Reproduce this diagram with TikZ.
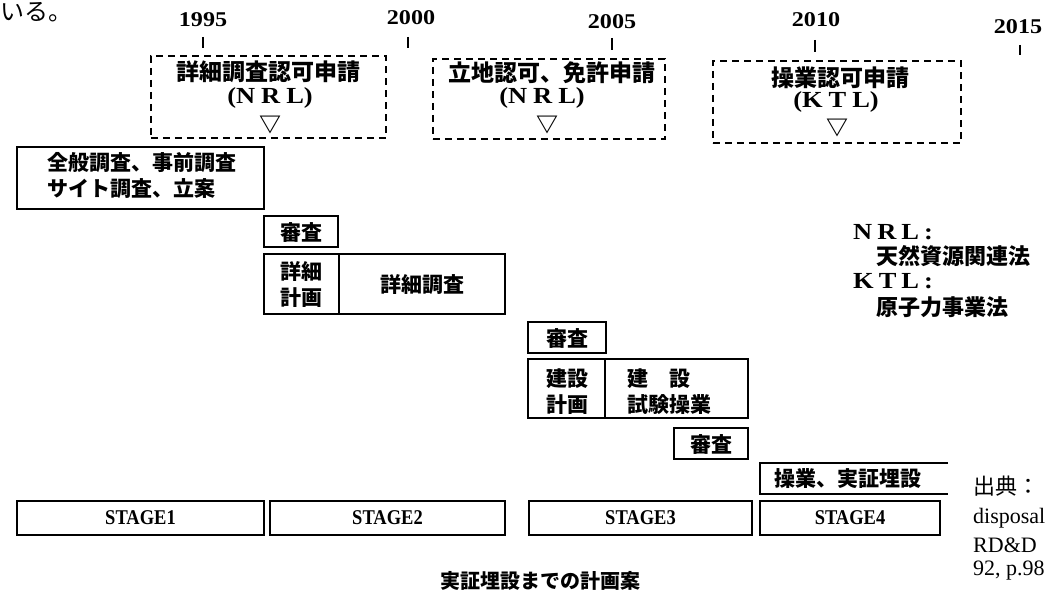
\documentclass[tikz,border=0pt]{standalone}
\usepackage{fontspec}
\setmainfont{Liberation Serif}
\newfontfamily\jp{Noto Sans CJK JP}
\newfontfamily\wide{Liberation Serif}[FakeStretch=1.15]
\newfontfamily\narrow{Liberation Serif}[FakeStretch=0.88]
\tikzset{
  bx/.style={draw, line width=1.5pt, inner sep=0pt, outer sep=0pt, anchor=north west},
  bline/.style={line width=1.5pt},
  dbx/.style={draw, line width=1.6pt, dash pattern=on 7pt off 5pt, inner sep=0pt, anchor=north west},
  jt/.style={font=\jp\bfseries\fontsize{21}{24}\selectfont, inner sep=0pt},
  jtl/.style={font=\jp\bfseries\fontsize{23}{26}\selectfont, inner sep=0pt},
  lat/.style={font=\wide\bfseries\fontsize{23}{26}\selectfont, inner sep=0pt},
  yr/.style={font=\wide\bfseries\fontsize{21}{23}\selectfont, inner sep=0pt},
  tri/.style={font=\jp\bfseries\fontsize{22}{24}\selectfont, inner sep=0pt},
  st/.style={font=\narrow\bfseries\fontsize{21}{23}\selectfont},
  src/.style={font=\fontsize{22}{24}\selectfont, inner sep=0pt, anchor=west},
  ticks/.style={line width=2.6pt},
}
\begin{document}
\begin{tikzpicture}[x=1pt,y=-1pt]
\useasboundingbox (0,0) rectangle (1047,596);
\clip (0,0) rectangle (1047,596);

% fragment of page text
\node[anchor=west, font=\jp\fontsize{24}{26}\selectfont, inner sep=0pt] (frag) at (0,12) {いる。};

% years and ticks
\node[yr] (y1995) at (203,20) {1995};
\node[yr] (y2000) at (411,18) {2000};
\node[yr] (y2005) at (612,22) {2005};
\node[yr] (y2010) at (816,20) {2010};
\node[yr] (y2015) at (1018,27) {2015};
\coordinate (a1) at (203,37); \coordinate (b1) at (203,48);
\coordinate (a2) at (408,37); \coordinate (b2) at (408,48);
\coordinate (a3) at (612,38); \coordinate (b3) at (612,50);
\coordinate (a4) at (815,40); \coordinate (b4) at (815,52);
\coordinate (a5) at (1020,45); \coordinate (b5) at (1020,55);
\draw[ticks] (a1) -- (b1);
\draw[ticks] (a2) -- (b2);
\draw[ticks] (a3) -- (b3);
\draw[ticks] (a4) -- (b4);
\draw[ticks] (a5) -- (b5);

% dashed application boxes
\node[dbx, minimum width=235pt, minimum height=82pt] (app1) at (150,55) {};
\node[jtl] (app1t) at (268,72) {詳細調査認可申請};
\node[lat] (app1l) at (270,98) {(N\hspace{6pt}R\hspace{6pt}L)};
\node[tri] (app1v) at (270,125) {▽};

\node[dbx, minimum width=232pt, minimum height=80pt] (app2) at (432,58) {};
\node[jtl] (app2t) at (552,73) {立地認可、免許申請};
\node[lat] (app2l) at (542,98) {(N\hspace{6pt}R\hspace{6pt}L)};
\node[tri] (app2v) at (547,125) {▽};

\node[dbx, minimum width=248pt, minimum height=82pt] (app3) at (712,60) {};
\node[jtl] (app3t) at (840,78) {操業認可申請};
\node[lat] (app3l) at (836,102) {(K\hspace{6pt}T\hspace{6pt}L)};
\node[tri] (app3v) at (837,128) {▽};

% stage 1 work
\node[bx, minimum width=247pt, minimum height=62pt] (gen) at (17,147) {};
\node[jt, anchor=west] (gen1) at (47,163) {全般調査、事前調査};
\node[jt, anchor=west] (gen2) at (47,189) {サイト調査、立案};

% stage 2 work
\node[bx, minimum width=74pt, minimum height=31pt] (rev1) at (264,216) {};
\node[jt] (rev1t) at (301,232) {審査};
\node[bx, minimum width=241pt, minimum height=60pt] (det) at (264,254) {};
\coordinate (d1) at (339,254); \coordinate (d2) at (339,314);
\draw[bline] (d1) -- (d2);
\node[jt] (det1) at (301,271) {詳細};
\node[jt] (det2) at (301,298) {計画};
\node[jt] (det3) at (422,285) {詳細調査};

% stage 3 work
\node[bx, minimum width=78pt, minimum height=31pt] (rev2) at (528,322) {};
\node[jt] (rev2t) at (567,338) {審査};
\node[bx, minimum width=220pt, minimum height=59pt] (con) at (528,359) {};
\coordinate (c1) at (605,359); \coordinate (c2) at (605,418);
\draw[bline] (c1) -- (c2);
\node[jt] (con1) at (567,379) {建設};
\node[jt] (con2) at (567,405) {計画};
\node[jt, anchor=west] (con3) at (627,379) {建　設};
\node[jt, anchor=west] (con4) at (627,405) {試験操業};
\node[bx, minimum width=74pt, minimum height=31pt] (rev3) at (674,428) {};
\node[jt] (rev3t) at (711,444) {審査};

% stage 4 work (open to the right)
\coordinate (o1) at (948,463); \coordinate (o2) at (760,463);
\coordinate (o3) at (760,494); \coordinate (o4) at (948,494);
\draw[bline] (o1) -- (o2) -- (o3) -- (o4);
\node[jt] (opt) at (848,479) {操業、実証埋設};

% stages
\node[bx, st, minimum width=247pt, minimum height=34pt] (s1) at (17,501) {STAGE1};
\node[bx, st, minimum width=235pt, minimum height=34pt] (s2) at (270,501) {STAGE2};
\node[bx, st, minimum width=223pt, minimum height=34pt] (s3) at (529,501) {STAGE3};
\node[bx, st, minimum width=180pt, minimum height=34pt] (s4) at (760,501) {STAGE4};

% legend
\node[lat, anchor=west] (lg1) at (853,232) {N\hspace{5pt}R\hspace{5pt}L\hspace{5pt}:};
\node[jt, anchor=west, font=\jp\bfseries\fontsize{22}{24}\selectfont] (lg2) at (876,256) {天然資源関連法};
\node[lat, anchor=west] (lg3) at (853,281) {K\hspace{5pt}T\hspace{5pt}L\hspace{5pt}:};
\node[jt, anchor=west, font=\jp\bfseries\fontsize{22}{24}\selectfont] (lg4) at (876,307) {原子力事業法};

% source
\node[src, font=\jp\fontsize{22}{24}\selectfont] (sr1) at (973,486) {出典：};
\node[src] (sr2) at (973,518) {disposal};
\node[src] (sr3) at (973,545) {RD\&D};
\node[src] (sr4) at (973,571) {92, p.98};

% caption
\node[jt, font=\jp\bfseries\fontsize{20}{22}\selectfont] (cap) at (540,581) {実証埋設までの計画案};
\end{tikzpicture}
\end{document}
